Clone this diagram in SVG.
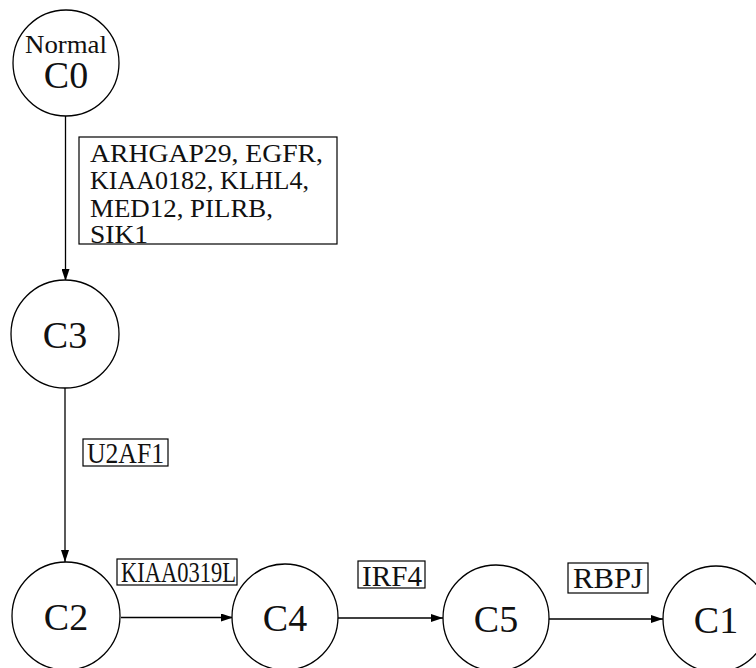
<svg xmlns="http://www.w3.org/2000/svg" width="756" height="668" viewBox="0 0 756 668">
<style>
.node{fill:#fff;stroke:#000;stroke-width:1.3}
.nl{font-family:"Liberation Serif",serif;font-size:38px;text-anchor:middle;fill:#111}
.sm{font-family:"Liberation Serif",serif;font-size:25px;text-anchor:middle;fill:#111}
.lb{font-family:"Liberation Serif",serif;font-size:25px;fill:#111}
.lb2{font-family:"Liberation Serif",serif;font-size:29px;fill:#111}
.box{fill:#fff;stroke:#000;stroke-width:1.2}
.edge{stroke:#000;stroke-width:1.3;fill:none}
</style>
<defs>
<marker id="arr" viewBox="0 0 12 8" refX="12" refY="4" markerWidth="12" markerHeight="8" markerUnits="userSpaceOnUse" orient="auto">
<path d="M0,0 L12,4 L0,8 Z" fill="#000"/>
</marker>
</defs>
<g id="connectors">
<line class="edge" x1="65.5" y1="116" x2="65.5" y2="281" marker-end="url(#arr)"/>
<line class="edge" x1="65" y1="388" x2="65" y2="562" marker-end="url(#arr)"/>
<line class="edge" x1="121" y1="617.5" x2="233" y2="617.5" marker-end="url(#arr)"/>
<line class="edge" x1="338" y1="618" x2="443" y2="618" marker-end="url(#arr)"/>
<line class="edge" x1="548" y1="619" x2="663" y2="619" marker-end="url(#arr)"/>
</g>
<g id="label-C0-C3">
<rect class="box" x="79" y="137" width="258" height="107"/>
<text class="lb" x="90" y="162" textLength="233" lengthAdjust="spacingAndGlyphs">ARHGAP29, EGFR,</text>
<text class="lb" x="90" y="189" textLength="219" lengthAdjust="spacingAndGlyphs">KIAA0182, KLHL4,</text>
<text class="lb" x="90" y="217" textLength="183" lengthAdjust="spacingAndGlyphs">MED12, PILRB,</text>
<text class="lb" x="90" y="243" textLength="58" lengthAdjust="spacingAndGlyphs">SIK1</text>
</g>
<g id="label-C3-C2">
<rect class="box" x="83" y="439" width="85" height="27"/>
<text class="lb2" x="87" y="463" textLength="77" lengthAdjust="spacingAndGlyphs">U2AF1</text>
</g>
<g id="label-C2-C4">
<rect class="box" x="117" y="559" width="120" height="26"/>
<text class="lb2" x="121" y="582" textLength="115" lengthAdjust="spacingAndGlyphs">KIAA0319L</text>
</g>
<g id="label-C4-C5">
<rect class="box" x="358" y="561" width="67" height="27"/>
<text class="lb2" x="362" y="586" textLength="60" lengthAdjust="spacingAndGlyphs">IRF4</text>
</g>
<g id="label-C5-C1">
<rect class="box" x="568" y="563" width="80" height="30"/>
<text class="lb2" x="573" y="588" textLength="70" lengthAdjust="spacingAndGlyphs">RBPJ</text>
</g>
<g id="C0">
<circle class="node" cx="66" cy="63" r="53"/>
<text class="sm" x="66" y="53" textLength="82" lengthAdjust="spacingAndGlyphs">Normal</text>
<text class="nl" x="66" y="88">C0</text>
</g>
<g id="C3">
<circle class="node" cx="65" cy="334" r="54"/>
<text class="nl" x="65" y="348">C3</text>
</g>
<g id="C2">
<circle class="node" cx="66" cy="616" r="54"/>
<text class="nl" x="66" y="630">C2</text>
</g>
<g id="C4">
<circle class="node" cx="285" cy="617" r="53"/>
<text class="nl" x="285" y="631">C4</text>
</g>
<g id="C5">
<circle class="node" cx="496" cy="618" r="53"/>
<text class="nl" x="496" y="632">C5</text>
</g>
<g id="C1">
<circle class="node" cx="716" cy="619" r="53"/>
<text class="nl" x="716" y="633">C1</text>
</g>
</svg>
